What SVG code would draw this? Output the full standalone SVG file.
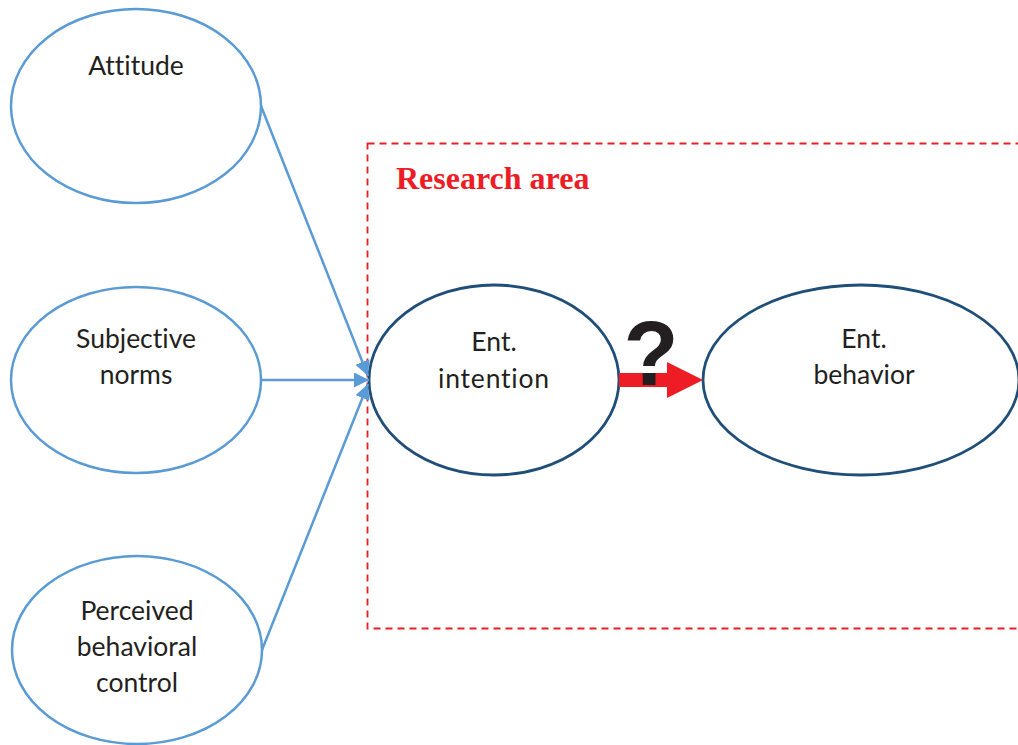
<svg xmlns="http://www.w3.org/2000/svg" width="1018" height="745" viewBox="0 0 1018 745">
<style>
.src{fill:#fff;stroke:#5b9bd5;stroke-width:2.5}
.tgt{fill:#fff;stroke:#1f4e79;stroke-width:2.8}
.lbl{font-family:Lato,"Liberation Sans",sans-serif;font-size:26.5px;fill:#231f20;text-anchor:middle;font-variant-ligatures:none}
.con{stroke:#5b9bd5;stroke-width:2.5;fill:none;marker-end:url(#ah)}
</style>
<defs>
<marker id="ah" viewBox="0 0 10 10" refX="10" refY="5" markerWidth="6" markerHeight="6" orient="auto" markerUnits="strokeWidth">
<path d="M0,0 L10,5 L0,10 z" fill="#5b9bd5"/>
</marker>
</defs>
<rect width="1018" height="745" fill="#fff"/>
<g id="research-area">
<rect x="367.5" y="143.5" width="700" height="485" fill="none" stroke="#ee1c25" stroke-width="1.8" stroke-dasharray="7,5"/>
<text x="396" y="189" font-family="'Liberation Serif',serif" font-weight="bold" font-size="32" fill="#ee1c25">Research area</text>
</g>
<g id="attitude">
<ellipse class="src" cx="136" cy="106" rx="125" ry="97"/>
<text class="lbl" x="136" y="75">Attitude</text>
</g>
<g id="subjective-norms">
<ellipse class="src" cx="136" cy="380" rx="125" ry="93"/>
<text class="lbl" x="136" y="348">Subjective</text>
<text class="lbl" x="136" y="384">norms</text>
</g>
<g id="pbc">
<ellipse class="src" cx="137" cy="650" rx="125" ry="94"/>
<text class="lbl" x="137" y="620">Perceived</text>
<text class="lbl" x="137" y="656">behavioral</text>
<text class="lbl" x="137" y="692">control</text>
</g>
<g id="ent-intention">
<ellipse class="tgt" cx="494" cy="380" rx="125" ry="95"/>
<text class="lbl" x="494" y="351" font-size="27.5">Ent.</text>
<text class="lbl" x="494" y="388" font-size="27.5" letter-spacing="0.8">intention</text>
</g>
<g id="ent-behavior">
<ellipse class="tgt" cx="861" cy="380" rx="158" ry="95"/>
<text class="lbl" x="864" y="348">Ent.</text>
<text class="lbl" x="864" y="384">behavior</text>
</g>
<g id="connectors">
<line class="con" x1="261" y1="106" x2="368" y2="376"/>
<line class="con" x1="262" y1="380" x2="369" y2="380"/>
<line class="con" x1="262" y1="650" x2="368" y2="384"/>
<path d="M619,373 L667,373 L667,362 L703,380 L667,398 L667,387 L619,387 z" fill="#ee1c25"/>
<text x="651" y="385" font-family="'Liberation Sans',sans-serif" font-weight="bold" font-size="90" fill="#231f20" text-anchor="middle">?</text>
</g>
</svg>
